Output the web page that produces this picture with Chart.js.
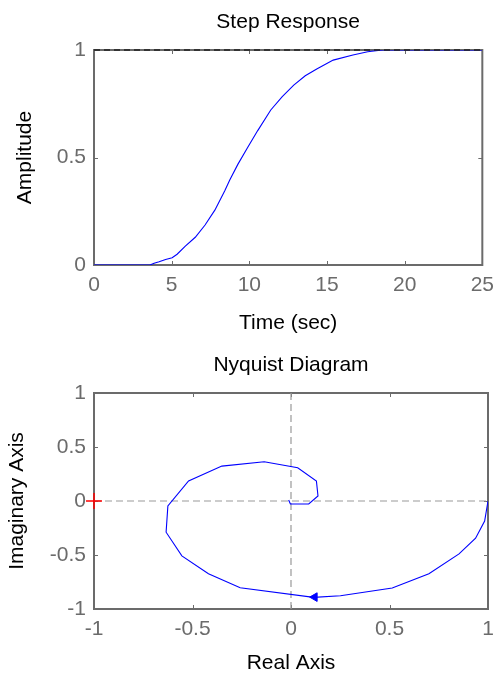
<!DOCTYPE html>
<html>
<head>
<meta charset="utf-8">
<script src="https://cdn.jsdelivr.net/npm/chart.js@4.4.0/dist/chart.umd.min.js"></script>
<style>
    html, body { margin: 0; padding: 0; background: #fff; overflow: hidden; }
    .panel { position: absolute; left: 0; width: 502px; }
</style>
</head>
<body>
<div class="panel" style="top:0;height:336px"><canvas id="stepChart" width="502" height="336"></canvas></div>
<div class="panel" style="top:336px;height:340px"><canvas id="nyquistChart" width="502" height="340"></canvas></div>
<script>
// Step response
const stepTime = [0, 1, 2, 3, 3.6, 3.87, 4.19, 4.61, 5.03, 5.35, 5.88, 6.52, 7.15, 7.78, 8.42, 8.74, 9.26, 9.9, 10.53, 11.38, 12.12, 12.86, 13.6, 14.34, 15.4, 16.67, 17.62, 18.57, 20, 22, 25];
const stepAmp = [0, 0, 0, 0, 0, 0.008, 0.015, 0.026, 0.034, 0.05, 0.088, 0.129, 0.186, 0.255, 0.345, 0.395, 0.468, 0.548, 0.624, 0.721, 0.783, 0.837, 0.88, 0.912, 0.953, 0.977, 0.992, 1, 1, 1, 1];
const finalValue = 1;
const stepTicksX = [0, 5, 10, 15, 20, 25];
const stepTicksY = [0, 0.5, 1];

// Nyquist curve
const nyqRe = [1.0, 0.983, 0.937, 0.853, 0.70, 0.514, 0.251, 0.115, -0.258, -0.419, -0.554, -0.634, -0.625, -0.52, -0.351, -0.136, 0.034, 0.129, 0.137, 0.09, -0.003, -0.012];
const nyqIm = [0.0, -0.185, -0.345, -0.49, -0.674, -0.806, -0.877, -0.892, -0.803, -0.674, -0.508, -0.289, -0.046, 0.185, 0.323, 0.363, 0.308, 0.185, 0.046, -0.028, -0.028, 0.009];
const arrowRe = [0.12];
const arrowIm = [-0.89];
const criticalRe = [-1];
const criticalIm = [0];
const nyqTicks = [-1, -0.5, 0, 0.5, 1];

const axisGray = '#6b6b6b';
const fontFamily = "'Liberation Sans', Arial, sans-serif";

const toPoints = (xs, ys) => xs.map((x, i) => ({ x: x, y: ys[i] }));

// Box around the plot area plus inward tick marks on all four sides
const framePlugin = {
    id: 'frame',
    beforeDatasetsDraw(chart) {
        const { ctx, chartArea: a, scales } = chart;
        ctx.save();
        ctx.strokeStyle = axisGray;
        ctx.lineWidth = 1;
        ctx.beginPath();
        scales.x.ticks.forEach(t => {
            const px = Math.round(scales.x.getPixelForValue(t.value)) + 0.5;
            ctx.moveTo(px, a.bottom); ctx.lineTo(px, a.bottom - 4);
            ctx.moveTo(px, a.top); ctx.lineTo(px, a.top + 4);
        });
        scales.y.ticks.forEach(t => {
            const py = Math.round(scales.y.getPixelForValue(t.value)) + 0.5;
            ctx.moveTo(a.left, py); ctx.lineTo(a.left + 4, py);
            ctx.moveTo(a.right, py); ctx.lineTo(a.right - 4, py);
        });
        ctx.stroke();
        ctx.lineWidth = 2;
        ctx.strokeRect(a.left, a.top, a.right - a.left, a.bottom - a.top);
        ctx.restore();
    }
};

function makeAxis(min, max, tickValues, title, titlePadding, fit) {
    return {
        type: 'linear',
        min: min,
        max: max,
        afterBuildTicks: (scale) => { scale.ticks = tickValues.map(v => ({ value: v })); },
        afterFit: fit,
        grid: { display: false, drawTicks: false },
        border: { display: false },
        ticks: {
            color: axisGray,
            font: { family: fontFamily, size: 21 },
            callback: (v) => String(v),
            maxRotation: 0,
            autoSkip: false
        },
        title: {
            display: true,
            text: title,
            color: '#000',
            font: { family: fontFamily, size: 21 },
            padding: titlePadding
        }
    };
}

function baseOptions(titleText, titlePadding) {
    return {
        responsive: false,
        animation: false,
        layout: { padding: { left: 0, right: 14, top: 0, bottom: 0 } },
        plugins: {
            legend: { display: false },
            tooltip: { enabled: false },
            title: {
                display: true,
                text: titleText,
                fullSize: false,
                color: '#000',
                font: { family: fontFamily, size: 21, weight: 'normal' },
                padding: titlePadding
            }
        }
    };
}

// Step response chart
const stepOptions = baseOptions('Step Response', { top: 9.4, bottom: 15.4 });
stepOptions.scales = {
    x: makeAxis(0, 25, stepTicksX, 'Time (sec)', { top: 0, bottom: 0 }, (s) => { s.height = 71; }),
    y: makeAxis(0, 1, stepTicksY, 'Amplitude', { top: 12.4, bottom: 0 }, (s) => { s.width = 94; })
};
stepOptions.scales.x.ticks.padding = 8;
stepOptions.scales.y.ticks.padding = 8;

new Chart(document.getElementById('stepChart'), {
    type: 'scatter',
    data: {
        datasets: [
            {
                data: toPoints(stepTime, stepAmp),
                showLine: true,
                borderColor: '#0000ff',
                borderWidth: 1.1,
                pointRadius: 0,
                order: 1
            },
            {
                data: toPoints([stepTime[0], stepTime[stepTime.length - 1]], [finalValue, finalValue]),
                showLine: true,
                borderColor: '#222',
                borderWidth: 1.5,
                borderDash: [6, 4],
                pointRadius: 0,
                clip: false,
                order: 0
            }
        ]
    },
    options: stepOptions,
    plugins: [framePlugin]
});

// Nyquist chart
const nyqOptions = baseOptions('Nyquist Diagram', { top: 16.9, bottom: 14.9 });
nyqOptions.scales = {
    x: makeAxis(-1, 1, nyqTicks, 'Real Axis', { top: 0, bottom: 0 }, (s) => { s.height = 67; }),
    y: makeAxis(-1, 1, nyqTicks, 'Imaginary Axis', { top: 4.4, bottom: 0 }, (s) => { s.width = 94; })
};
nyqOptions.scales.x.ticks.padding = 8;
nyqOptions.scales.y.ticks.padding = 8;

new Chart(document.getElementById('nyquistChart'), {
    type: 'scatter',
    data: {
        datasets: [
            {
                data: toPoints(nyqRe, nyqIm),
                showLine: true,
                borderColor: '#0000ff',
                borderWidth: 1.1,
                pointRadius: 0,
                order: 1
            },
            {
                data: toPoints(arrowRe, arrowIm),
                pointStyle: 'triangle',
                rotation: -90,
                pointRadius: 5,
                backgroundColor: '#0000ff',
                borderColor: '#0000ff',
                borderWidth: 1,
                order: 0
            },
            {
                data: toPoints(criticalRe, criticalIm),
                pointStyle: 'cross',
                pointRadius: 8,
                borderColor: '#ff0000',
                borderWidth: 1.5,
                clip: false,
                order: 0
            },
            {
                data: toPoints([-1, 1], [0, 0]),
                showLine: true,
                borderColor: '#999',
                borderWidth: 1.2,
                borderDash: [7, 4],
                pointRadius: 0,
                order: 3
            },
            {
                data: toPoints([0, 0], [-1, 1]),
                showLine: true,
                borderColor: '#999',
                borderWidth: 1.2,
                borderDash: [7, 4],
                pointRadius: 0,
                order: 3
            }
        ]
    },
    options: nyqOptions,
    plugins: [framePlugin]
});
</script>
</body>
</html>
